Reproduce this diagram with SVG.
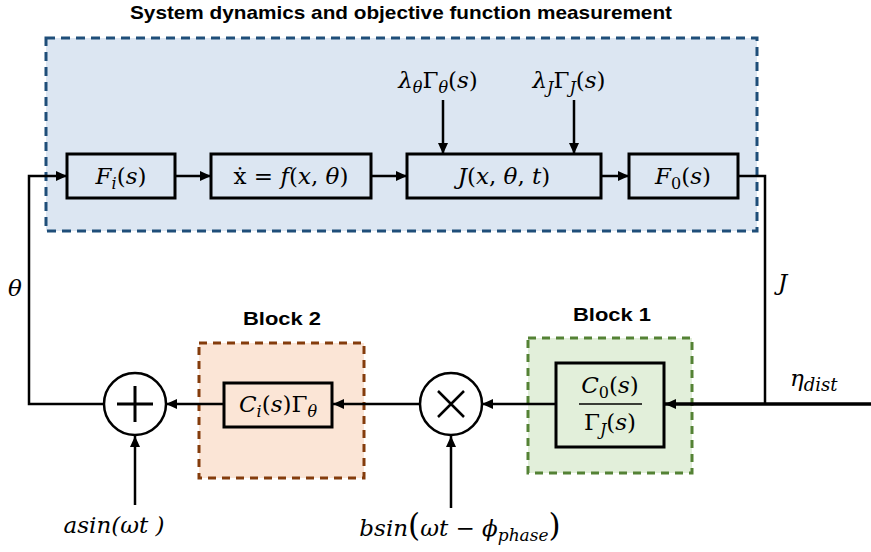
<svg xmlns="http://www.w3.org/2000/svg" width="871" height="552" viewBox="0 0 871 552">
  <style>
    .m { font-family: "DejaVu Serif", "Liberation Serif", serif; font-size: 23px; fill: #000; }
    .i { font-style: italic; }
    .s { font-size: 16px; }
    .h { font-family: "Liberation Sans", "Arial", sans-serif; font-weight: bold; font-size: 19px; fill: #000; }
    .blk { fill: none; stroke: #000; stroke-width: 3; }
    .wire { fill: none; stroke: #000; stroke-width: 2.5; }
  </style>
  <defs>
    <marker id="arr" markerUnits="userSpaceOnUse" markerWidth="12" markerHeight="12" viewBox="0 0 12 12" refX="11" refY="6" orient="auto">
      <path d="M0,1 L11,6 L0,11 z" fill="#000"/>
    </marker>
  </defs>

  <!-- Title -->
  <text class="h" x="401" y="19" text-anchor="middle" textLength="542" lengthAdjust="spacingAndGlyphs">System dynamics and objective function measurement</text>

  <!-- Group frames -->
  <g id="plant-frame">
    <rect x="46" y="38" width="711" height="193" fill="#DCE6F2" stroke="#1F4E79" stroke-width="3" stroke-dasharray="9,6"/>
  </g>
  <g id="block2-frame">
    <rect x="199" y="343" width="165" height="135" fill="#FBE5D6" stroke="#843C0C" stroke-width="3" stroke-dasharray="8,6"/>
    <text class="h" x="282" y="325" text-anchor="middle" font-size="21" textLength="78" lengthAdjust="spacingAndGlyphs">Block 2</text>
  </g>
  <g id="block1-frame">
    <rect x="528" y="338" width="164" height="135" fill="#E2EFDA" stroke="#548235" stroke-width="3" stroke-dasharray="8,6"/>
    <text class="h" x="612" y="321" text-anchor="middle" font-size="21" textLength="78" lengthAdjust="spacingAndGlyphs">Block 1</text>
  </g>

  <!-- Connectors -->
  <g id="connectors">
    <line class="wire" x1="175" y1="176" x2="211" y2="176" marker-end="url(#arr)"/>
    <line class="wire" x1="371" y1="176" x2="407" y2="176" marker-end="url(#arr)"/>
    <line class="wire" x1="601" y1="176" x2="629" y2="176" marker-end="url(#arr)"/>
    <line class="wire" x1="443" y1="100" x2="443" y2="154" marker-end="url(#arr)"/>
    <line class="wire" x1="574" y1="100" x2="574" y2="154" marker-end="url(#arr)"/>
    <!-- J feedback from F0 down to the measurement line -->
    <polyline class="wire" points="738,176 765,176 765,404"/>
    <!-- measured J plus disturbance into Block 1 -->
    <line x1="871" y1="404" x2="665" y2="404" stroke="#000" stroke-width="3.5" marker-end="url(#arr)"/>
    <line class="wire" x1="556" y1="404" x2="482" y2="404" marker-end="url(#arr)"/>
    <line class="wire" x1="420" y1="404" x2="333" y2="404" marker-end="url(#arr)"/>
    <line class="wire" x1="224" y1="404" x2="166" y2="404" marker-end="url(#arr)"/>
    <!-- theta back to the plant input -->
    <polyline class="wire" points="104,404 29,404 29,176 67,176" marker-end="url(#arr)"/>
    <line class="wire" x1="135" y1="505" x2="135" y2="436" marker-end="url(#arr)"/>
    <line class="wire" x1="451" y1="508" x2="451" y2="436" marker-end="url(#arr)"/>
  </g>

  <!-- Plant blocks -->
  <g id="Fi">
    <rect class="blk" x="67" y="154" width="108" height="44"/>
    <text class="m" x="121" y="184" text-anchor="middle"><tspan class="i">F</tspan><tspan class="i s" dy="5">i</tspan><tspan dy="-5">(</tspan><tspan class="i">s</tspan>)</text>
  </g>
  <g id="dynamics">
    <rect class="blk" x="211" y="154" width="160" height="44"/>
    <text class="m" x="291" y="184" text-anchor="middle">ẋ = <tspan class="i">f</tspan>(<tspan class="i">x</tspan>, <tspan class="i">θ</tspan>)</text>
  </g>
  <g id="J">
    <rect class="blk" x="407" y="154" width="194" height="44"/>
    <text class="m" x="504" y="184" text-anchor="middle"><tspan class="i">J</tspan>(<tspan class="i">x</tspan>, <tspan class="i">θ</tspan>, <tspan class="i">t</tspan>)</text>
  </g>
  <g id="F0">
    <rect class="blk" x="629" y="154" width="109" height="44"/>
    <text class="m" x="683" y="184" text-anchor="middle"><tspan class="i">F</tspan><tspan class="s" dy="5">0</tspan><tspan dy="-5">(</tspan><tspan class="i">s</tspan>)</text>
  </g>
  <g id="lambda-theta">
    <text class="m" x="438" y="88" text-anchor="middle" font-size="24"><tspan class="i">λ</tspan><tspan class="i s" dy="5">θ</tspan><tspan dy="-5">Γ</tspan><tspan class="i s" dy="5">θ</tspan><tspan dy="-5">(</tspan><tspan class="i">s</tspan>)</text>
  </g>
  <g id="lambda-J">
    <text class="m" x="569" y="88" text-anchor="middle" font-size="24"><tspan class="i">λ</tspan><tspan class="i s" dy="5">J</tspan><tspan dy="-5">Γ</tspan><tspan class="i s" dy="5">J</tspan><tspan dy="-5">(</tspan><tspan class="i">s</tspan>)</text>
  </g>

  <!-- Feedback path -->
  <g id="C0">
    <rect class="blk" x="556" y="363" width="108" height="84"/>
    <text class="m" x="610" y="393" text-anchor="middle"><tspan class="i">C</tspan><tspan class="s" dy="5">0</tspan><tspan dy="-5">(</tspan><tspan class="i">s</tspan>)</text>
    <line x1="579" y1="404" x2="642" y2="404" stroke="#000" stroke-width="1.5"/>
    <text class="m" x="610" y="430" text-anchor="middle">Γ<tspan class="i s" dy="5">J</tspan><tspan dy="-5">(</tspan><tspan class="i">s</tspan>)</text>
  </g>
  <g id="multiplier">
    <circle cx="451" cy="404" r="31" fill="none" stroke="#000" stroke-width="2.5"/>
    <path d="M438,391 L464,417 M464,391 L438,417" stroke="#000" stroke-width="2.5"/>
  </g>
  <g id="Ci">
    <rect class="blk" x="224" y="383" width="108" height="44"/>
    <text class="m" x="278" y="412" text-anchor="middle"><tspan class="i">C</tspan><tspan class="i s" dy="5">i</tspan><tspan dy="-5">(</tspan><tspan class="i">s</tspan>)Γ<tspan class="i s" dy="5">θ</tspan></text>
  </g>
  <g id="summer">
    <circle cx="135" cy="404" r="31" fill="none" stroke="#000" stroke-width="2.5"/>
    <path d="M117,404 H153 M135,386 V422" stroke="#000" stroke-width="3"/>
  </g>

  <!-- Signal labels -->
  <g id="labels">
    <text class="m i" x="8" y="296" font-size="25">θ</text>
    <text class="m i" x="778" y="290" font-size="25">J</text>
    <text class="m" x="790" y="386" font-size="25"><tspan class="i">η</tspan><tspan class="i" dy="5" font-size="18">dist</tspan></text>
    <text class="m i" x="114" y="533" text-anchor="middle" font-size="25">asin(ωt )</text>
    <text class="m" x="460" y="536" text-anchor="middle" font-size="25"><tspan class="i">bsin</tspan><tspan font-size="31">(</tspan><tspan class="i">ωt</tspan> − <tspan class="i">ϕ</tspan><tspan class="i" font-size="17" dy="5">phase</tspan><tspan font-size="31" dy="-5">)</tspan></text>
  </g>
</svg>
